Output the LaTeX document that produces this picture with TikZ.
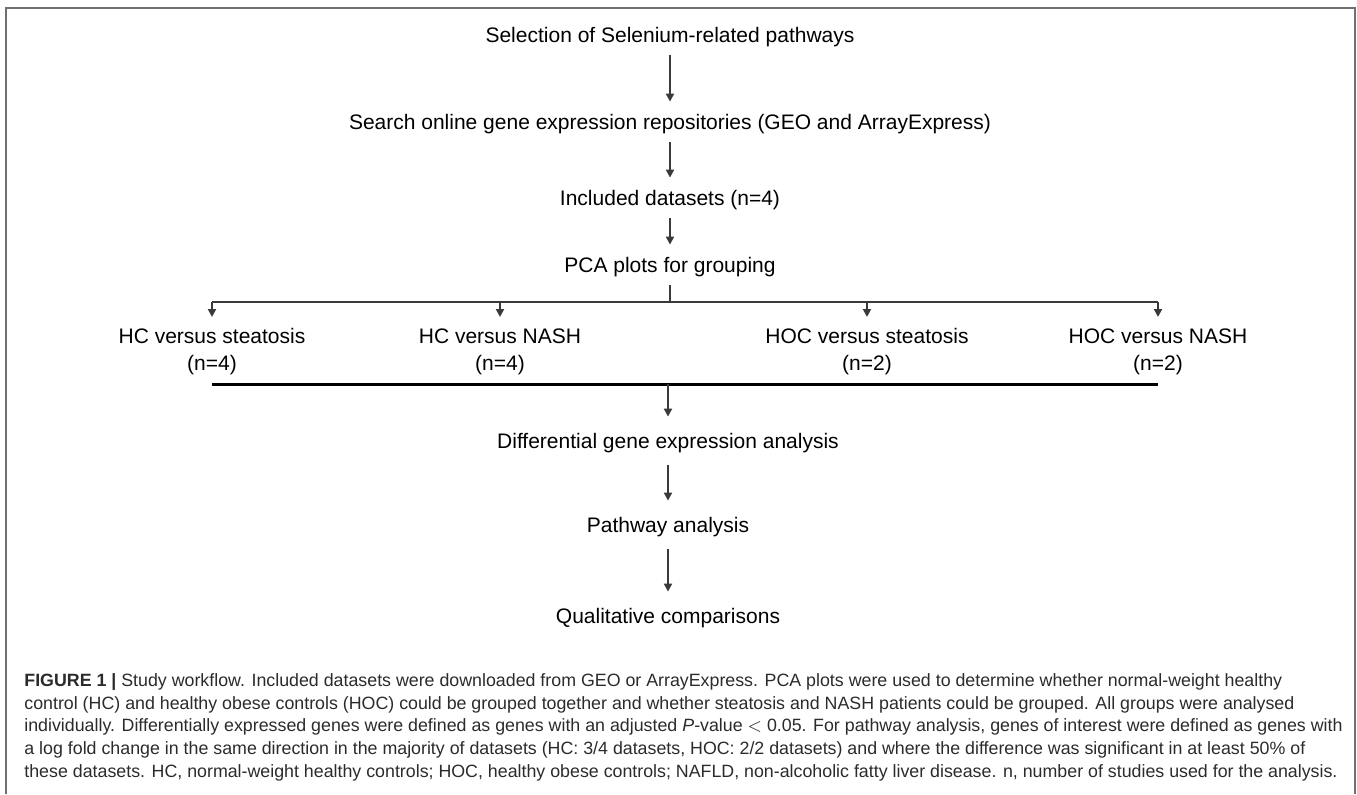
\documentclass[tikz,border=0pt]{standalone}
\usepackage{fontspec}
\setmainfont{Liberation Sans}
\usetikzlibrary{arrows.meta}
\definecolor{linegray}{HTML}{3A3A3A}
\definecolor{framegray}{HTML}{707070}
\definecolor{captext}{HTML}{2B2B2B}
\tikzset{
  stepnode/.style={align=center, inner sep=0pt, minimum height=20pt, text height=7.5pt, text depth=0pt, font=\fontsize{10.5}{13.5}\selectfont},
  groupnode/.style={align=center, inner xsep=0pt, inner ysep=5.5pt, anchor=north, font=\fontsize{10.5}{13.5}\selectfont},
  arrow/.style={-{Triangle[length=4pt,width=4pt]}, line width=1.1pt, draw=linegray},
  branchline/.style={line width=1.2pt, draw=linegray},
  joinline/.style={line width=1.5pt, draw=black},
  captionnode/.style={align=left, inner sep=0pt, anchor=north west, text=captext, font=\fontsize{8.9}{11.4}\selectfont}
}
\begin{document}
\begin{tikzpicture}[x=0.5pt, y=-0.5pt]
\useasboundingbox (0,0) rectangle (1357,794);
\draw[line width=1pt, framegray] (6,794) -- (6,8) -- (1355,8) -- (1355,794);
\node[stepnode] (sel) at (670,35) {Selection of Selenium-related pathways};
\node[stepnode] (search) at (670,122) {Search online gene expression repositories (GEO and ArrayExpress)};
\node[stepnode] (incl) at (670,198) {Included datasets (n=4)};
\node[stepnode] (pca) at (670,265) {PCA plots for grouping};
\coordinate (fork) at (670,302);
\node[groupnode] (hcst) at (212,317) {HC versus steatosis\\(n=4)};
\node[groupnode] (hcnash) at (500,317) {HC versus NASH\\(n=4)};
\node[groupnode] (hocst) at (867,317) {HOC versus steatosis\\(n=2)};
\node[groupnode] (hocnash) at (1158,317) {HOC versus NASH\\(n=2)};
\coordinate (join) at (668,384);
\node[stepnode, minimum height=24pt] (deg) at (668,441) {Differential gene expression analysis};
\node[stepnode, minimum height=24pt] (path) at (668,525) {Pathway analysis};
\node[stepnode, minimum height=24pt] (qual) at (668,616) {Qualitative comparisons};
\draw[arrow] (sel) -- (search);
\draw[arrow] (search) -- (incl);
\draw[arrow] (incl) -- (pca);
\draw[branchline] (pca) -- (fork);
\draw[branchline] (hcst |- fork) -- (hocnash |- fork);
\foreach \g in {hcst,hcnash,hocst,hocnash}
  \draw[arrow] (\g |- fork) -- (\g);
\draw[joinline] (hcst |- join) -- (hocnash |- join);
\draw[arrow] (join) -- (deg);
\draw[arrow] (deg) -- (path);
\draw[arrow] (path) -- (qual);
\node[captionnode] (cap) at (24,673) {\textbf{FIGURE 1 |} Study workflow. Included datasets were downloaded from GEO or ArrayExpress. PCA plots were used to determine whether normal-weight healthy\\
control (HC) and healthy obese controls (HOC) could be grouped together and whether steatosis and NASH patients could be grouped. All groups were analysed\\
individually. Differentially expressed genes were defined as genes with an adjusted \textit{P}-value $<$ 0.05. For pathway analysis, genes of interest were defined as genes with\\
a log fold change in the same direction in the majority of datasets (HC: 3/4 datasets, HOC: 2/2 datasets) and where the difference was significant in at least 50\% of\\
these datasets. HC, normal-weight healthy controls; HOC, healthy obese controls; NAFLD, non-alcoholic fatty liver disease. n, number of studies used for the analysis.};
\end{tikzpicture}
\end{document}
